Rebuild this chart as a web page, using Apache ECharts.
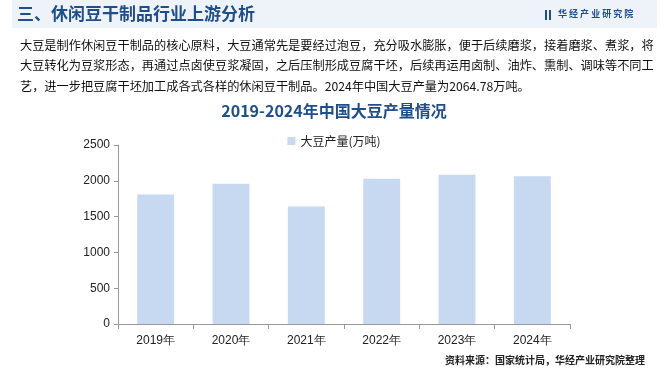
<!DOCTYPE html>
<html><head><meta charset="utf-8">
<script src="https://cdn.jsdelivr.net/npm/echarts@6/dist/echarts.min.js"></script>
<style>html,body{margin:0;padding:0;background:#fff}#c{width:668px;height:370px}</style>
</head><body><div id="c"></div>
<script>
const categories = ['2019年','2020年','2021年','2022年','2023年','2024年'];
const production = [1809.18, 1960.18, 1639.5, 2028.35, 2084.2, 2064.78];
const yTicks = [0, 500, 1000, 1500, 2000, 2500];
const seriesName = '大豆产量(万吨)';
const headTitle = '三、休闲豆干制品行业上游分析';
const bodyLines = [
  '大豆是制作休闲豆干制品的核心原料，大豆通常先是要经过泡豆，充分吸水膨胀，便于后续磨浆，接着磨浆、煮浆，将',
  '大豆转化为豆浆形态，再通过点卤使豆浆凝固，之后压制形成豆腐干坯，后续再运用卤制、油炸、熏制、调味等不同工',
  '艺，进一步把豆腐干坯加工成各式各样的休闲豆干制品。2024年中国大豆产量为2064.78万吨。'
];
const chartTitle = '2019-2024年中国大豆产量情况';
const sourceText = '资料来源：国家统计局，华经产业研究院整理';
const brand = '华经产业研究院';

const font = '"Noto Sans CJK SC", sans-serif';
const chart = echarts.init(document.getElementById('c'));
const graphics = [
  {type:'rect', left:12, top:0, shape:{width:645, height:28}, style:{fill:'#eef3fa'}, z:-1},
  {type:'text', left:17, top:5, style:{text:headTitle, font:'bold 17px ' + font, fill:'#1f4e8c'}},
  {type:'rect', left:545, top:10, shape:{width:2, height:10}, style:{fill:'#1f4e8c'}},
  {type:'rect', left:549, top:10, shape:{width:2, height:10}, style:{fill:'#1f4e8c'}},
  {type:'text', left:558, top:9, style:{text:brand.split('').join(' '), font:'bold 9px ' + font, fill:'#1f4e8c'}},
  {type:'text', right:23, top:355, style:{text:sourceText, font:'bold 10px ' + font, fill:'#222'}}
];
bodyLines.forEach((t, i) => graphics.push({type:'text', left:20, top:39 + i * 20.5, style:{text:t, font:'12.2px ' + font, fill:'#111'}}));

chart.setOption({
  animation:false,
  title:{text:chartTitle, left:'center', top:98, textStyle:{fontFamily:font, fontSize:16, fontWeight:'bold', color:'#1f4e8c'}},
  legend:{data:[seriesName], top:130, left:'center', itemWidth:8, itemHeight:8, icon:'rect', itemGap:5,
    textStyle:{fontFamily:font, fontSize:12, color:'#222'}},
  grid:{left:118, right:98, top:145, bottom:46},
  xAxis:{type:'category', data:categories,
    axisLine:{lineStyle:{color:'#999'}}, axisTick:{show:true, lineStyle:{color:'#999'}},
    axisLabel:{fontFamily:'Arial, "Liberation Sans", sans-serif', fontSize:12, color:'#222', margin:11}},
  yAxis:{type:'value', min:0, max:2500, interval:500,
    axisLine:{show:true, lineStyle:{color:'#999'}}, axisTick:{show:true, length:4, lineStyle:{color:'#999'}},
    splitLine:{show:false},
    axisLabel:{fontFamily:'Arial, "Liberation Sans", sans-serif', fontSize:12, color:'#222', margin:8,
      formatter:v => yTicks.includes(v) ? String(v) : ''}},
  series:[{name:seriesName, type:'bar', data:production, barWidth:'49%', itemStyle:{color:'#c6d9f1'}}],
  graphic:graphics
});
</script></body></html>
